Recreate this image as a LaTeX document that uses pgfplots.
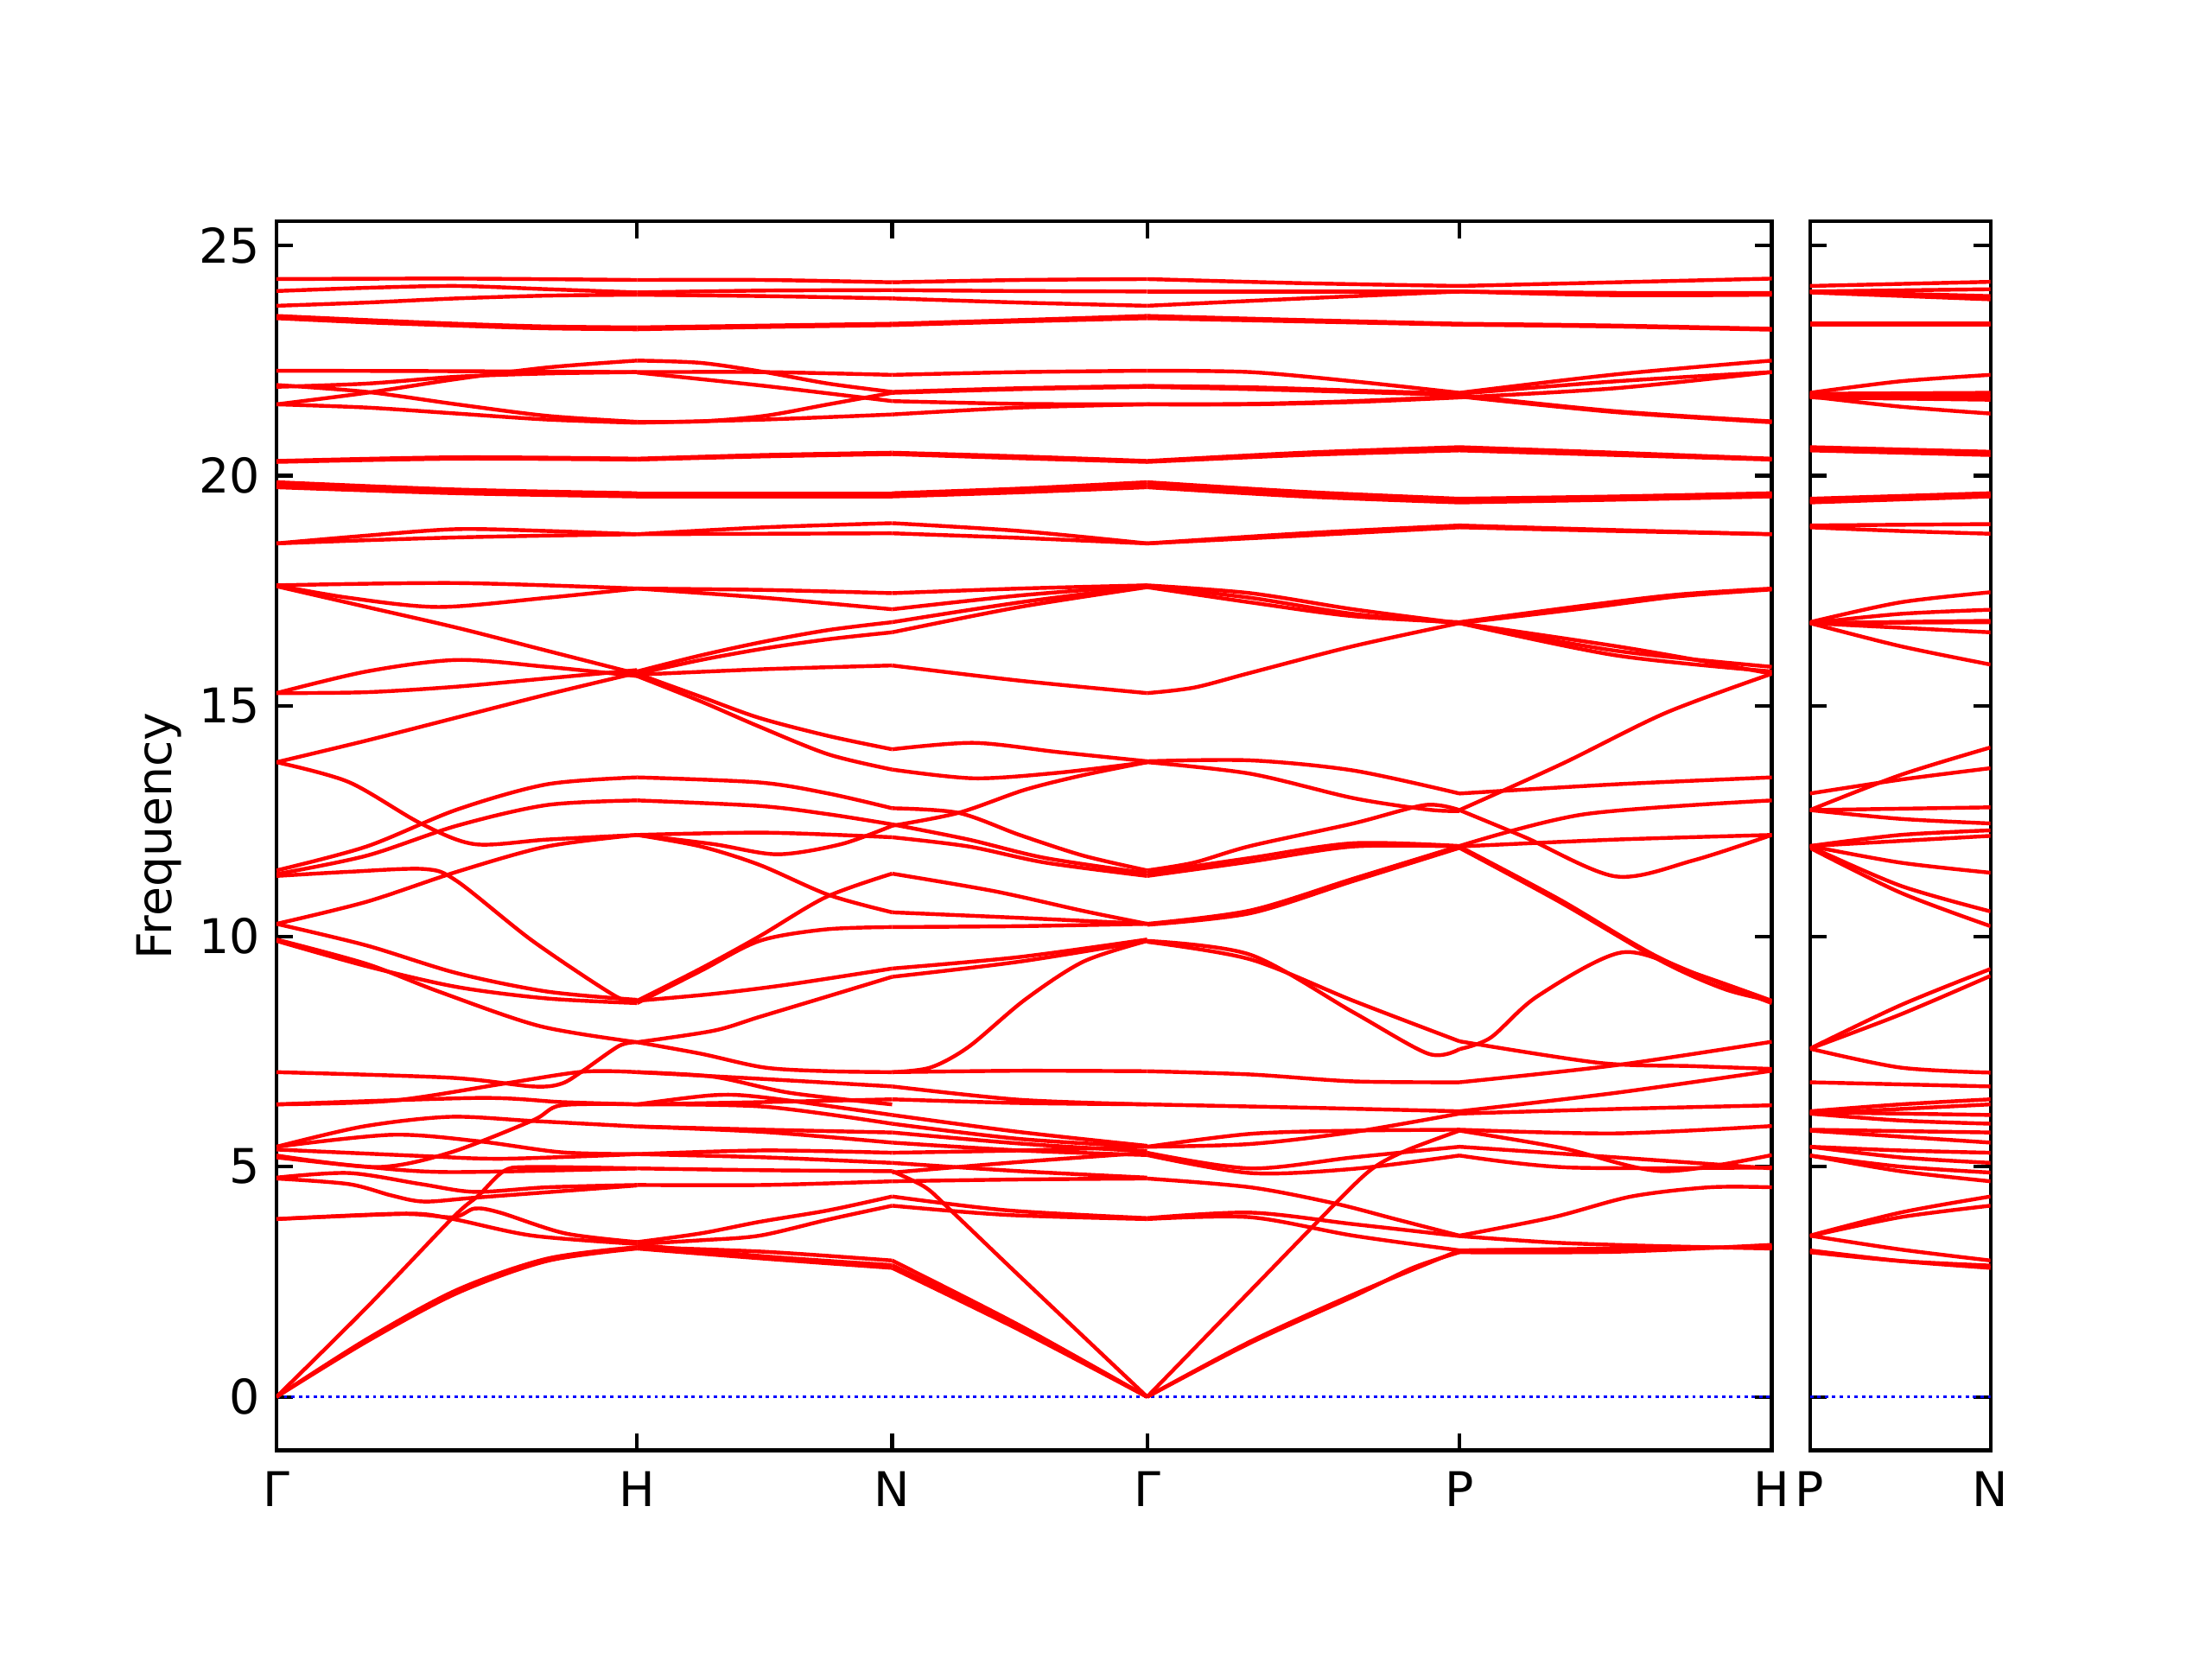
\documentclass[border=0pt]{standalone}
\usepackage{fontspec}
\setmainfont{DejaVu Sans}
\usepackage{pgfplots}
\pgfplotsset{compat=1.18}
\pgfplotsset{bnd/.style={red, line width=0.8pt, smooth, mark=none}}
\newcommand\sGH[1]{\addplot[bnd] table[header=false,row sep=\\,x expr=\thisrowno{0},y index=1]{#1};}
\newcommand\sHN[1]{\addplot[bnd] table[header=false,row sep=\\,x expr=\thisrowno{0}*0.70711+1,y index=1]{#1};}
\newcommand\sNG[1]{\addplot[bnd] table[header=false,row sep=\\,x expr=\thisrowno{0}*0.70711+1.70711,y index=1]{#1};}
\newcommand\sGP[1]{\addplot[bnd] table[header=false,row sep=\\,x expr=\thisrowno{0}*0.86603+2.41421,y index=1]{#1};}
\newcommand\sPH[1]{\addplot[bnd] table[header=false,row sep=\\,x expr=\thisrowno{0}*0.86603+3.28024,y index=1]{#1};}
\newcommand\sPN[1]{\addplot[bnd] table[header=false,row sep=\\,x expr=\thisrowno{0}*0.5,y index=1]{#1};}
\pgfplotsset{myaxis/.style={
  scale only axis, height=9.030cm,
  ymin=-1.16, ymax=25.52,
  ytick={0,5,10,15,20,25},
  tick align=inside,
  major tick length=3.5pt,
  axis line style={line width=0.75pt},
  every tick/.style={black, line width=0.75pt},
  tick label style={font=\fontsize{10}{12}\selectfont},
  label style={font=\fontsize{10}{12}\selectfont},
  /pgf/number format/assume math mode=true,
  xticklabel style={yshift=-1pt},
}}
\begin{document}
\begin{tikzpicture}
\useasboundingbox (-2.032,-1.534) rectangle (14.224,10.658);
\begin{axis}[myaxis,
  at={(0,0)}, anchor=south west,
  width=10.989cm,
  xmin=0, xmax=4.14626,
  xtick={0,1,1.70711,2.41421,3.28024,4.14626},
  xticklabels={Γ,H,N,Γ,P,H},
  ylabel={Frequency},
  ylabel style={at={(axis description cs:-0.0786,0.5)}, anchor=center},
]
\addplot[blue, line width=0.6pt, dash pattern=on 0.7pt off 0.85pt] coordinates {(0,0) (4.14626,0)};
% ---- Gamma - H
\sGH{0 24.27\\0.5 24.28\\1 24.25\\}
\sGH{0 24.01\\0.25 24.08\\0.5 24.12\\0.75 24.05\\1 23.98\\}
\sGH{0 23.69\\0.25 23.76\\0.5 23.85\\0.75 23.91\\1 23.93\\}
\sGH{0 23.47\\0.25 23.38\\0.5 23.3\\0.75 23.24\\1 23.22\\}
\sGH{0 23.42\\0.25 23.33\\0.5 23.26\\0.75 23.2\\1 23.18\\}
\sGH{0 22.28\\0.5 22.27\\1 22.25\\}
\sGH{0 21.55\\0.25 21.8\\0.5 22.1\\0.75 22.35\\1 22.5\\}
\sGH{0 21.97\\0.25 21.82\\0.5 21.55\\0.75 21.3\\1 21.17\\}
\sGH{0 21.55\\0.25 21.48\\0.5 21.35\\0.75 21.22\\1 21.15\\}
\sGH{0 21.93\\0.25 22.0\\0.5 22.15\\0.75 22.22\\1 22.25\\}
\sGH{0 20.32\\0.5 20.4\\1 20.37\\}
\sGH{0 20.3\\0.5 20.37\\1 20.35\\}
\sGH{0 19.86\\0.5 19.7\\1 19.62\\}
\sGH{0 19.8\\0.5 19.66\\1 19.58\\}
\sGH{0 19.75\\0.5 19.62\\1 19.55\\}
\sGH{0 18.53\\0.25 18.7\\0.5 18.84\\0.75 18.8\\1 18.73\\}
\sGH{0 18.53\\0.25 18.6\\0.5 18.66\\0.75 18.7\\1 18.73\\}
\sGH{0 17.62\\0.5 17.67\\1 17.55\\}
\sGH{0 17.62\\0.2 17.35\\0.45 17.15\\0.75 17.35\\1 17.55\\}
\sGH{0 17.6\\0.25 17.15\\0.5 16.7\\0.75 16.2\\1 15.7\\}
\sGH{0 15.28\\0.25 15.75\\0.5 16.0\\0.75 15.85\\1 15.65\\}
\sGH{0 15.28\\0.25 15.3\\0.5 15.42\\0.75 15.6\\1 15.78\\}
\sGH{0 13.78\\0.25 14.25\\0.5 14.75\\0.75 15.25\\1 15.72\\}
\sGH{0 13.78\\0.2 13.35\\0.4 12.45\\0.55 12.0\\0.75 12.1\\1 12.2\\}
\sGH{0 11.43\\0.25 11.95\\0.5 12.75\\0.75 13.3\\1 13.45\\}
\sGH{0 11.35\\0.25 11.75\\0.5 12.4\\0.75 12.85\\1 12.95\\}
\sGH{0 11.31\\0.2 11.4\\0.41 11.46\\0.5 11.2\\0.71 9.9\\0.94 8.7\\1 8.6\\}
\sGH{0 10.27\\0.25 10.75\\0.5 11.4\\0.75 11.95\\1 12.2\\}
\sGH{0 10.27\\0.25 9.8\\0.5 9.2\\0.75 8.8\\1 8.62\\}
\sGH{0 9.93\\0.25 9.4\\0.45 8.8\\0.73 8.05\\1 7.7\\}
\sGH{0 9.9\\0.25 9.35\\0.5 8.9\\0.75 8.65\\1 8.55\\}
\sGH{0 7.05\\0.48 6.93\\0.71 6.74\\0.79 6.8\\0.85 7.08\\0.95 7.62\\1 7.7\\}
\sGH{0 6.35\\0.32 6.43\\0.63 6.8\\0.85 7.06\\1 7.05\\}
\sGH{0 6.35\\0.56 6.49\\0.79 6.4\\1 6.35\\}
\sGH{0 5.43\\0.24 5.87\\0.48 6.08\\0.71 5.99\\1 5.87\\}
\sGH{0 5.43\\0.32 5.69\\0.56 5.55\\0.79 5.31\\1 5.27\\}
\sGH{0 5.37\\0.4 5.23\\0.63 5.17\\1 5.27\\}
\sGH{0 5.24\\0.28 4.99\\0.48 5.3\\0.71 6.0\\0.79 6.33\\1 6.35\\}
\sGH{0 5.2\\0.24 5.0\\0.48 4.88\\1 4.96\\}
\sGH{0 4.74\\0.2 4.62\\0.32 4.37\\0.41 4.24\\0.56 4.33\\1 4.59\\}
\sGH{0 4.76\\0.2 4.86\\0.4 4.62\\0.55 4.45\\0.75 4.55\\1 4.6\\}
\sGH{0 3.86\\0.35 3.97\\0.49 3.9\\0.55 4.09\\0.62 4.0\\0.8 3.55\\1 3.36\\}
\sGH{0 3.86\\0.36 3.98\\0.49 3.86\\0.71 3.5\\1 3.32\\}
\sGH{0 0\\0.25 1.94\\0.49 3.9\\0.56 4.37\\0.63 4.9\\0.7 4.99\\1 4.96\\}
\sGH{0 0\\0.25 1.2\\0.5 2.25\\0.75 2.95\\1 3.22\\}
\sGH{0 0\\0.25 1.25\\0.5 2.32\\0.75 3.0\\1 3.25\\}
% ---- H - N
\sHN{0 24.25\\0.5 24.25\\1 24.2\\}
\sHN{0 23.98\\0.5 24.02\\1 24.03\\}
\sHN{0 23.93\\0.5 23.9\\1 23.85\\}
\sHN{0 23.22\\0.5 23.26\\1 23.3\\}
\sHN{0 23.18\\0.5 23.23\\1 23.27\\}
\sHN{0 22.5\\0.25 22.45\\0.5 22.25\\0.75 22.0\\1 21.82\\}
\sHN{0 22.25\\0.5 22.25\\1 22.19\\}
\sHN{0 22.24\\0.5 21.95\\1 21.62\\}
\sHN{0 21.17\\0.25 21.18\\0.5 21.3\\0.75 21.55\\1 21.8\\}
\sHN{0 21.15\\0.5 21.22\\1 21.33\\}
\sHN{0 20.37\\0.5 20.45\\1 20.5\\}
\sHN{0 20.35\\0.5 20.42\\1 20.47\\}
\sHN{0 19.62\\1 19.62\\}
\sHN{0 19.58\\1 19.58\\}
\sHN{0 19.55\\1 19.55\\}
\sHN{0 18.73\\0.5 18.88\\1 18.97\\}
\sHN{0 18.73\\0.5 18.74\\1 18.75\\}
\sHN{0 17.55\\0.5 17.52\\1 17.45\\}
\sHN{0 17.55\\0.5 17.35\\1 17.1\\}
\sHN{0 15.75\\0.25 16.1\\0.5 16.4\\0.75 16.65\\1 16.82\\}
\sHN{0 15.7\\0.25 16.0\\0.5 16.25\\0.75 16.45\\1 16.6\\}
\sHN{0 15.68\\0.5 15.8\\1 15.88\\}
\sHN{0 15.7\\0.25 15.2\\0.48 14.74\\0.75 14.35\\1 14.06\\}
\sHN{0 15.65\\0.25 15.1\\0.48 14.55\\0.75 13.95\\1 13.62\\}
\sHN{0 13.45\\0.48 13.34\\0.75 13.1\\1 12.78\\}
\sHN{0 12.95\\0.48 12.83\\0.75 12.65\\1 12.43\\}
\sHN{0 12.2\\0.5 12.25\\1 12.15\\}
\sHN{0 12.2\\0.3 12.0\\0.55 11.78\\0.8 12.0\\1 12.4\\}
\sHN{0 12.2\\0.25 11.95\\0.48 11.55\\0.75 10.9\\1 10.52\\}
\sHN{0 8.6\\0.25 9.3\\0.48 10.0\\0.74 10.85\\1 11.36\\}
\sHN{0 8.55\\0.25 9.25\\0.48 9.9\\0.74 10.15\\1 10.2\\}
\sHN{0 8.6\\0.3 8.75\\0.59 8.95\\1 9.3\\}
\sHN{0 7.7\\0.3 7.95\\0.48 8.25\\0.75 8.7\\1 9.12\\}
\sHN{0 7.7\\0.25 7.45\\0.5 7.15\\0.75 7.07\\1 7.05\\}
\sHN{0 7.05\\0.5 6.9\\1 6.74\\}
\sHN{0 7.05\\0.3 6.95\\0.6 6.6\\1 6.35\\}
\sHN{0 6.35\\0.3 6.55\\0.5 6.5\\1 6.12\\}
\sHN{0 6.35\\0.5 6.3\\1 5.93\\}
\sHN{0 6.35\\0.5 6.4\\1 6.46\\}
\sHN{0 5.87\\0.5 5.75\\1 5.52\\}
\sHN{0 5.87\\0.5 5.8\\1 5.74\\}
\sHN{0 5.27\\0.5 5.2\\1 5.08\\}
\sHN{0 5.27\\0.5 5.35\\1 5.3\\}
\sHN{0 4.96\\0.5 4.92\\1 4.9\\}
\sHN{0 4.6\\0.5 4.6\\1 4.68\\}
\sHN{0 3.36\\0.25 3.55\\0.48 3.8\\0.75 4.05\\1 4.35\\}
\sHN{0 3.32\\0.25 3.4\\0.48 3.5\\0.75 3.85\\1 4.15\\}
\sHN{0 3.25\\0.5 3.15\\1 2.96\\}
\sHN{0 3.22\\0.5 3.0\\1 2.8\\}
\sHN{0 3.3\\0.5 3.05\\1 2.86\\}
% ---- N - Gamma
\sNG{0 24.2\\0.5 24.25\\1 24.27\\}
\sNG{0 24.03\\0.5 24.01\\1 24.0\\}
\sNG{0 23.85\\0.5 23.76\\1 23.69\\}
\sNG{0 23.3\\0.5 23.38\\1 23.47\\}
\sNG{0 23.27\\0.5 23.35\\1 23.42\\}
\sNG{0 22.19\\0.5 22.25\\1 22.28\\}
\sNG{0 21.82\\0.5 21.9\\1 21.95\\}
\sNG{0 21.8\\0.5 21.88\\1 21.93\\}
\sNG{0 21.62\\0.5 21.56\\1 21.55\\}
\sNG{0 21.33\\0.5 21.48\\1 21.55\\}
\sNG{0 20.5\\0.5 20.42\\1 20.32\\}
\sNG{0 20.47\\0.5 20.38\\1 20.3\\}
\sNG{0 19.62\\0.5 19.72\\1 19.86\\}
\sNG{0 19.58\\0.5 19.68\\1 19.8\\}
\sNG{0 19.55\\0.5 19.64\\1 19.75\\}
\sNG{0 18.97\\0.5 18.8\\1 18.53\\}
\sNG{0 18.75\\0.5 18.65\\1 18.53\\}
\sNG{0 17.45\\0.5 17.55\\1 17.62\\}
\sNG{0 17.1\\0.5 17.4\\1 17.62\\}
\sNG{0 16.82\\0.5 17.25\\1 17.6\\}
\sNG{0 16.6\\0.5 17.15\\1 17.58\\}
\sNG{0 15.88\\0.5 15.55\\1 15.28\\}
\sNG{0 14.06\\0.32 14.2\\0.65 14.0\\1 13.8\\}
\sNG{0 13.62\\0.32 13.43\\0.65 13.55\\1 13.78\\}
\sNG{0 12.4\\0.26 12.68\\0.52 13.18\\0.75 13.5\\1 13.78\\}
\sNG{0 12.78\\0.26 12.68\\0.5 12.2\\0.75 11.75\\1 11.43\\}
\sNG{0 12.43\\0.3 12.1\\0.6 11.7\\1 11.37\\}
\sNG{0 12.15\\0.3 11.95\\0.6 11.6\\1 11.31\\}
\sNG{0 11.36\\0.4 10.98\\0.75 10.55\\1 10.27\\}
\sNG{0 10.52\\0.5 10.4\\1 10.27\\}
\sNG{0 10.2\\0.5 10.22\\1 10.27\\}
\sNG{0 9.3\\0.5 9.55\\1 9.93\\}
\sNG{0 9.12\\0.5 9.45\\1 9.9\\}
\sNG{0 7.05\\0.15 7.15\\0.3 7.6\\0.52 8.62\\0.75 9.45\\1 9.9\\}
\sNG{0 7.05\\0.5 7.08\\1 7.07\\}
\sNG{0 6.74\\0.5 6.45\\1 6.35\\}
\sNG{0 6.46\\0.5 6.38\\1 6.35\\}
\sNG{0 6.12\\0.5 5.75\\1 5.45\\}
\sNG{0 5.93\\0.5 5.6\\1 5.43\\}
\sNG{0 5.74\\0.5 5.5\\1 5.33\\}
\sNG{0 5.52\\0.5 5.35\\1 5.25\\}
\sNG{0 5.3\\0.5 5.35\\1 5.43\\}
\sNG{0 4.87\\0.5 5.1\\1 5.3\\}
\sNG{0 4.68\\0.5 4.72\\1 4.74\\}
\sNG{0 5.08\\0.5 4.9\\1 4.76\\}
\sNG{0 4.35\\0.45 4.05\\1 3.88\\}
\sNG{0 4.15\\0.45 3.95\\1 3.86\\}
\sNG{0 4.9\\0.13 4.55\\0.23 4.05\\0.5 2.62\\1 0\\}
\sNG{0 2.96\\0.5 1.55\\1 0\\}
\sNG{0 2.86\\0.5 1.5\\1 0\\}
\sNG{0 2.8\\0.5 1.45\\1 0\\}
% ---- Gamma - P
\sGP{0 24.27\\0.5 24.18\\1 24.12\\}
\sGP{0 24.0\\1 24.0\\}
\sGP{0 23.69\\0.5 23.85\\1 24.0\\}
\sGP{0 23.47\\0.5 23.38\\1 23.3\\}
\sGP{0 23.42\\0.5 23.35\\1 23.28\\}
\sGP{0 22.28\\0.33 22.25\\0.66 22.05\\1 21.8\\}
\sGP{0 21.95\\0.33 21.92\\0.66 21.85\\1 21.78\\}
\sGP{0 21.93\\0.33 21.88\\0.66 21.82\\1 21.75\\}
\sGP{0 21.55\\0.33 21.56\\0.66 21.62\\1 21.72\\}
\sGP{0 21.55\\0.33 21.55\\0.66 21.6\\1 21.7\\}
\sGP{0 20.32\\0.5 20.5\\1 20.62\\}
\sGP{0 20.3\\0.5 20.45\\1 20.55\\}
\sGP{0 19.86\\0.5 19.65\\1 19.5\\}
\sGP{0 19.8\\0.5 19.6\\1 19.45\\}
\sGP{0 19.75\\0.5 19.55\\1 19.42\\}
\sGP{0 18.53\\0.5 18.75\\1 18.92\\}
\sGP{0 18.53\\0.5 18.7\\1 18.88\\}
\sGP{0 17.62\\0.33 17.45\\0.66 17.1\\1 16.8\\}
\sGP{0 17.6\\0.33 17.35\\0.66 17.0\\1 16.8\\}
\sGP{0 17.58\\0.33 17.25\\0.66 16.95\\1 16.82\\}
\sGP{0 15.28\\0.15 15.4\\0.33 15.72\\0.66 16.3\\1 16.8\\}
\sGP{0 13.8\\0.33 13.82\\0.66 13.6\\1 13.1\\}
\sGP{0 13.78\\0.33 13.53\\0.66 13.0\\0.9 12.75\\1 12.72\\}
\sGP{0 11.43\\0.15 11.6\\0.33 11.96\\0.66 12.45\\0.89 12.85\\1 12.74\\}
\sGP{0 11.37\\0.33 11.7\\0.66 12.02\\1 11.96\\}
\sGP{0 11.31\\0.33 11.62\\0.66 11.95\\1 11.95\\}
\sGP{0 10.27\\0.33 10.56\\0.66 11.25\\1 11.96\\}
\sGP{0 10.25\\0.33 10.5\\0.66 11.2\\1 11.92\\}
\sGP{0 9.9\\0.33 9.6\\0.66 8.35\\0.9 7.45\\1 7.55\\}
\sGP{0 9.88\\0.33 9.5\\0.66 8.6\\1 7.72\\}
\sGP{0 7.07\\0.33 7.0\\0.66 6.85\\1 6.83\\}
\sGP{0 6.35\\0.5 6.28\\1 6.2\\}
\sGP{0 5.43\\0.33 5.71\\0.66 5.78\\1 5.8\\}
\sGP{0 5.43\\0.33 5.49\\0.66 5.75\\1 6.15\\}
\sGP{0 5.3\\0.33 4.96\\0.66 5.2\\1 5.43\\}
\sGP{0 5.25\\0.33 4.86\\0.66 4.95\\1 5.24\\}
\sGP{0 4.74\\0.33 4.55\\0.6 4.2\\0.8 3.85\\1 3.5\\}
\sGP{0 0\\0.33 2.3\\0.6 4.18\\0.72 4.95\\0.83 5.35\\1 5.78\\}
\sGP{0 3.88\\0.33 4.0\\0.66 3.75\\1 3.49\\}
\sGP{0 3.86\\0.33 3.9\\0.66 3.5\\1 3.18\\}
\sGP{0 0\\0.33 1.17\\0.66 2.18\\0.85 2.8\\1 3.14\\}
\sGP{0 0\\0.33 1.2\\0.66 2.22\\1 3.18\\}
% ---- P - H
\sPH{0 24.12\\0.5 24.2\\1 24.28\\}
\sPH{0 24.0\\0.5 23.97\\1 23.97\\}
\sPH{0 24.0\\0.5 23.92\\1 23.93\\}
\sPH{0 23.3\\0.5 23.26\\1 23.19\\}
\sPH{0 23.28\\0.5 23.24\\1 23.17\\}
\sPH{0 21.8\\0.5 22.2\\1 22.5\\}
\sPH{0 21.78\\0.5 22.05\\1 22.25\\}
\sPH{0 21.75\\0.5 21.4\\1 21.18\\}
\sPH{0 21.72\\0.5 21.38\\1 21.16\\}
\sPH{0 21.7\\0.5 21.9\\1 22.25\\}
\sPH{0 20.62\\0.5 20.5\\1 20.37\\}
\sPH{0 20.55\\0.5 20.45\\1 20.35\\}
\sPH{0 19.5\\0.5 19.55\\1 19.62\\}
\sPH{0 19.45\\0.5 19.52\\1 19.58\\}
\sPH{0 19.42\\0.5 19.48\\1 19.55\\}
\sPH{0 18.92\\0.5 18.82\\1 18.73\\}
\sPH{0 18.88\\0.5 18.8\\1 18.73\\}
\sPH{0 16.82\\0.4 17.18\\0.7 17.42\\1 17.55\\}
\sPH{0 16.8\\0.4 17.12\\0.7 17.38\\1 17.53\\}
\sPH{0 16.8\\0.5 16.2\\1 15.85\\}
\sPH{0 16.8\\0.5 16.1\\1 15.75\\}
\sPH{0 16.8\\0.5 16.3\\0.8 15.95\\1 15.7\\}
\sPH{0 13.1\\0.5 13.3\\1 13.45\\}
\sPH{0 12.74\\0.33 13.75\\0.66 14.85\\1 15.7\\}
\sPH{0 12.74\\0.21 12.15\\0.5 11.3\\0.75 11.65\\1 12.2\\}
\sPH{0 11.96\\0.4 12.65\\1 12.95\\}
\sPH{0 11.95\\0.5 12.1\\1 12.2\\}
\sPH{0 11.95\\0.32 10.8\\0.65 9.5\\1 8.55\\}
\sPH{0 11.92\\0.32 10.75\\0.65 9.45\\0.85 8.85\\1 8.6\\}
\sPH{0 7.55\\0.1 7.8\\0.25 8.7\\0.52 9.65\\0.75 9.2\\1 8.6\\}
\sPH{0 7.72\\0.45 7.25\\0.75 7.18\\1 7.12\\}
\sPH{0 6.83\\0.5 7.2\\1 7.71\\}
\sPH{0 6.2\\0.5 6.6\\1 7.08\\}
\sPH{0 6.15\\0.5 6.25\\1 6.33\\}
\sPH{0 5.8\\0.5 5.72\\1 5.88\\}
\sPH{0 5.78\\0.33 5.4\\0.65 4.9\\1 5.25\\}
\sPH{0 5.43\\0.5 5.2\\1 4.96\\}
\sPH{0 5.24\\0.35 4.98\\1 4.98\\}
\sPH{0 3.5\\0.3 3.9\\0.55 4.35\\0.8 4.55\\1 4.55\\}
\sPH{0 3.14\\0.5 3.15\\1 3.3\\}
\sPH{0 3.18\\0.5 3.22\\1 3.25\\}
\sPH{0 3.49\\0.3 3.35\\0.6 3.28\\1 3.22\\}
\end{axis}
\begin{axis}[myaxis,
  at={(11.269cm,0)}, anchor=south west,
  width=1.327cm,
  xmin=0, xmax=0.5,
  xtick={0,0.5},
  xticklabels={P,N},
  yticklabels={},
]
\addplot[blue, line width=0.6pt, dash pattern=on 0.7pt off 0.85pt] coordinates {(0,0) (0.5,0)};
\sPN{0 24.12\\1 24.21\\}
\sPN{0 24.0\\1 24.05\\}
\sPN{0 24.0\\1 23.9\\}
\sPN{0 23.98\\1 23.83\\}
\sPN{0 23.3\\1 23.3\\}
\sPN{0 23.28\\1 23.28\\}
\sPN{0 21.8\\0.5 22.05\\1 22.19\\}
\sPN{0 21.78\\1 21.8\\}
\sPN{0 21.75\\1 21.72\\}
\sPN{0 21.72\\0.5 21.5\\1 21.35\\}
\sPN{0 21.7\\1 21.65\\}
\sPN{0 20.62\\1 20.52\\}
\sPN{0 20.55\\1 20.45\\}
\sPN{0 19.5\\1 19.62\\}
\sPN{0 19.45\\1 19.58\\}
\sPN{0 19.42\\1 19.55\\}
\sPN{0 18.92\\1 18.95\\}
\sPN{0 18.88\\0.5 18.8\\1 18.74\\}
\sPN{0 16.82\\0.5 17.25\\1 17.47\\}
\sPN{0 16.8\\0.5 17.0\\1 17.09\\}
\sPN{0 16.8\\1 16.85\\}
\sPN{0 16.8\\1 16.82\\}
\sPN{0 16.8\\0.5 16.7\\1 16.6\\}
\sPN{0 16.8\\0.5 16.3\\1 15.9\\}
\sPN{0 13.1\\0.5 13.4\\1 13.65\\}
\sPN{0 12.74\\0.5 13.5\\1 14.1\\}
\sPN{0 12.74\\1 12.8\\}
\sPN{0 12.74\\0.5 12.55\\1 12.45\\}
\sPN{0 11.96\\0.5 12.2\\1 12.3\\}
\sPN{0 11.96\\1 12.18\\}
\sPN{0 11.96\\0.5 11.6\\1 11.38\\}
\sPN{0 11.95\\0.5 11.1\\1 10.54\\}
\sPN{0 11.92\\0.5 10.95\\1 10.22\\}
\sPN{0 7.56\\0.5 8.5\\1 9.29\\}
\sPN{0 7.56\\0.5 8.3\\1 9.14\\}
\sPN{0 7.56\\0.5 7.15\\1 7.04\\}
\sPN{0 6.83\\1 6.74\\}
\sPN{0 6.2\\0.5 6.35\\1 6.46\\}
\sPN{0 6.15\\1 6.35\\}
\sPN{0 6.18\\0.5 6.15\\1 6.12\\}
\sPN{0 6.15\\0.5 6.0\\1 5.93\\}
\sPN{0 5.8\\1 5.74\\}
\sPN{0 5.78\\0.5 5.65\\1 5.52\\}
\sPN{0 5.43\\0.5 5.35\\1 5.3\\}
\sPN{0 5.43\\0.5 5.2\\1 5.08\\}
\sPN{0 5.24\\0.5 5.0\\1 4.87\\}
\sPN{0 5.24\\0.5 4.9\\1 4.68\\}
\sPN{0 3.5\\0.5 4.0\\1 4.35\\}
\sPN{0 3.49\\0.5 3.9\\1 4.15\\}
\sPN{0 3.5\\0.5 3.2\\1 2.96\\}
\sPN{0 3.14\\0.5 2.95\\1 2.85\\}
\sPN{0 3.18\\0.5 2.95\\1 2.8\\}
\end{axis}
\end{tikzpicture}
\end{document}
